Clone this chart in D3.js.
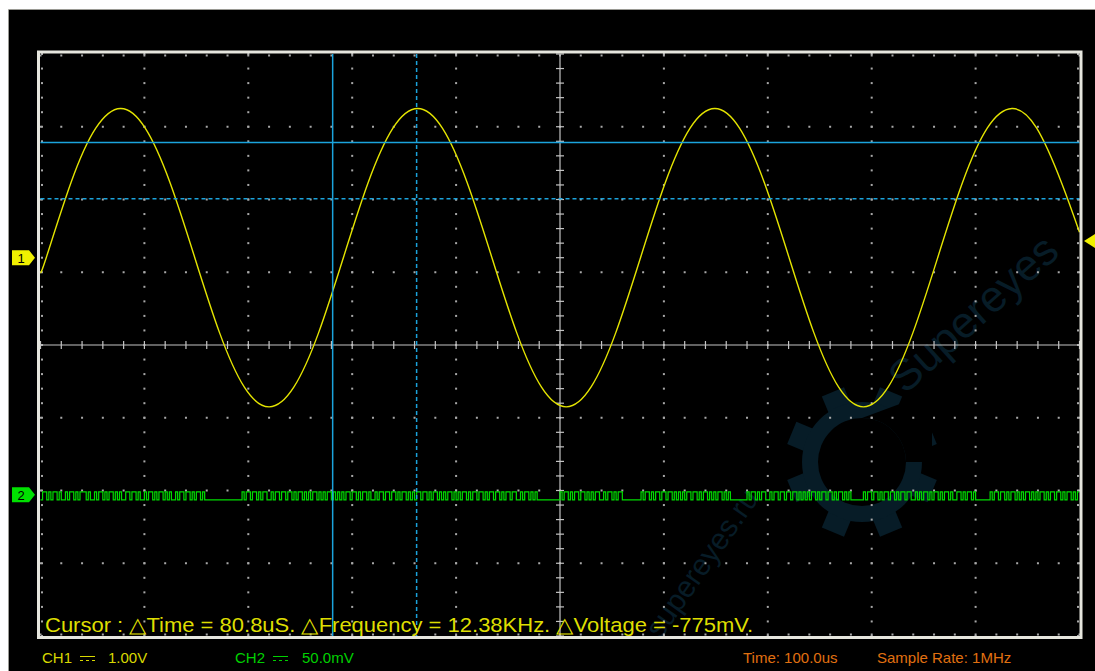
<!DOCTYPE html>
<html><head><meta charset="utf-8">
<script src="https://cdn.jsdelivr.net/npm/d3@7"></script>
<style>body{margin:0;background:#fff;overflow:hidden}svg{display:block}</style>
</head><body>
<svg id="c" width="1095" height="671"></svg>
<script>
// ---- data ----
const ch1TimeUs = [0, 5.5, 29.3, 53.2, 77, 100.8, 124.7, 148.5, 172.3, 196.2, 220, 243.8, 267.7, 291.5, 315.3, 339.2, 363, 386.8, 410.7, 434.5, 458.3, 482.2, 506, 529.8, 553.7, 577.5, 601.3, 625.2, 649, 672.8, 696.7, 720.5, 744.3, 768.2, 792, 815.8, 839.7, 863.5, 887.3, 911.2, 935, 958.8, 982.7, 1000];
const ch1Volts  = [-0.2, 0, 1.03, 1.78, 2.05, 1.78, 1.03, 0, -1.03, -1.78, -2.05, -1.78, -1.03, 0, 1.03, 1.78, 2.05, 1.78, 1.03, 0, -1.03, -1.78, -2.05, -1.78, -1.03, 0, 1.03, 1.78, 2.05, 1.78, 1.03, 0, -1.03, -1.78, -2.05, -1.78, -1.03, 0, 1.03, 1.78, 2.05, 1.78, 1.03, 0.35];
const ch2StepUs = 2;
const ch2Codes = [
  "0110101101","0010110101","1101001011","0101101010","0110110100","1011010110","1010010110","1101011010","0000000000","0000000101",
  "1011010110","0101101101","1010110101","0110101011","0101010110","1101011010","0101101101","1010110101","0110110101","1010101101",
  "0101101011","0110101101","1010110110","0101101010","0000000000","1011010110","1101010110","0101101011","0000000001","0110101101",
  "1011010101","0110110101","1010101101","0100000000","1011010110","0101101101","1011010101","0110101101","1010110101","0000001011",
  "0110101101","1010110110","0101011010","1101011010","0110101101","0000000101","1011010110","1010110101","0110101101","1010110101","1"
].join("");
const ch2LevelsMv = [-3.5, 2.0];
const timeTicksUs = d3.range(0, 1001, 100);
const cursorTimesUs = [281.2, 362.0];
const cursorVolts = [1.585, 0.81];
const triggerVolts = 0.23;
const ch1Offset = 1.2;      // divisions above centre
const ch2Offset = -2.06;    // divisions (below centre)
const cursorText = "Cursor : \u25B3Time = 80.8uS. \u25B3Frequency = 12.38KHz. \u25B3Voltage = -775mV.";
const ch1Label = ["CH1", "1.00V"];
const ch2Label = ["CH2", "50.0mV"];
const timeLabel = "Time: 100.0us";
const rateLabel = "Sample Rate: 1MHz";
const watermark = ["Supereyes", "supereyes.ru"];

// ---- scales ----
const L = 40.5, R = 1079.5, T = 54, B = 636;
const x = d3.scaleLinear().domain([0, 1000]).range([L, R]);
const yDiv = d3.scaleLinear().domain([-4, 4]).range([B, T]);
const y1 = d3.scaleLinear().domain([-4 - ch1Offset, 4 - ch1Offset]).range([B, T]);
const y2 = d3.scaleLinear().domain([(-4 - ch2Offset) * 50, (4 - ch2Offset) * 50]).range([B, T]);
const font = "Liberation Sans, Arial, sans-serif";

const svg = d3.select("#c");
svg.append("rect").attr("x", 0).attr("y", 0).attr("width", 1095).attr("height", 671).attr("fill", "#fff");
svg.append("rect").attr("x", 9).attr("y", 10).attr("width", 1086).attr("height", 661).attr("fill", "#000");
svg.append("path").attr("d", "M8.5,671V9.5H1095").attr("stroke", "#9a9a94").attr("fill", "none");

// watermark (faint)
const wmc = "#071c27";
const wm = svg.append("g").attr("fill", wmc);
const gg = wm.append("g").attr("transform", "translate(862,462)");
d3.range(8).forEach(i => {
  gg.append("rect").attr("x", -12).attr("y", -76).attr("width", 24).attr("height", 24)
    .attr("transform", `rotate(${i * 45 + 22.5})`);
});
gg.append("circle").attr("r", 60);
gg.append("circle").attr("r", 44).attr("fill", "#000");
gg.append("path").attr("d", "M0,-44A44,44 0 0 1 44,0L70,0L70,-70Z").attr("fill", "#000");
wm.append("text").attr("transform", "translate(905,395) rotate(-42)")
  .attr("font-family", font).attr("font-size", 44).text(watermark[0]);
wm.append("text").attr("transform", "translate(760,498) rotate(-55)").attr("text-anchor", "end")
  .attr("font-family", font).attr("font-size", 30).text(watermark[1]);

// grid
const grid = svg.append("g").attr("fill", "#a8a8a8");
const minorX = d3.range(0, 1000.01, 20);
const minorY = d3.range(-4, 4.01, 0.2);
timeTicksUs.forEach(t => {
  if (t === 500) return;
  const px = t === 0 ? L + 1.5 : t === 1000 ? R - 1.5 : x(t);
  minorY.forEach(d => grid.append("rect").attr("x", px - 1).attr("y", yDiv(d) - 1).attr("width", 2).attr("height", 2));
});
d3.range(-4, 5).forEach(d => {
  if (d === 0) return;
  const py = d === 4 ? T + 1.5 : d === -4 ? B - 1.5 : yDiv(d);
  minorX.forEach(t => grid.append("rect").attr("x", x(t) - 1).attr("y", py - 1).attr("width", 2).attr("height", 2));
});
// centre cross
const cross = svg.append("g").attr("stroke", "#c4c4c4").attr("stroke-width", 1.2);
cross.append("line").attr("x1", L).attr("x2", R).attr("y1", yDiv(0)).attr("y2", yDiv(0));
cross.append("line").attr("x1", x(500)).attr("x2", x(500)).attr("y1", T).attr("y2", B);
minorX.forEach(t => cross.append("line").attr("x1", x(t)).attr("x2", x(t)).attr("y1", yDiv(0) - 4).attr("y2", yDiv(0) + 4));
minorY.forEach(d => cross.append("line").attr("x1", x(500) - 4).attr("x2", x(500) + 4).attr("y1", yDiv(d)).attr("y2", yDiv(d)));

// CH2 trace
const ch2Data = ch2Codes.split("").map((c, i) => ({t: i * ch2StepUs, v: ch2LevelsMv[+c]})).filter(d => d.t <= 1000);
svg.append("path").datum(ch2Data)
  .attr("d", d3.line().x(d => x(d.t)).y(d => y2(d.v)).curve(d3.curveStepAfter))
  .attr("fill", "none").attr("stroke", "#00dc00").attr("stroke-width", 1.2);

// CH1 trace
const ch1Data = ch1TimeUs.map((t, i) => ({t, v: ch1Volts[i]}));
svg.append("path").datum(ch1Data)
  .attr("d", d3.line().x(d => x(d.t)).y(d => y1(d.v)).curve(d3.curveNatural))
  .attr("fill", "none").attr("stroke", "#e4e400").attr("stroke-width", 1.4);

// cursors
const cc = "#1ba3dc";
svg.append("line").attr("x1", x(cursorTimesUs[0])).attr("x2", x(cursorTimesUs[0])).attr("y1", T).attr("y2", B).attr("stroke", cc).attr("stroke-width", 1.5);
svg.append("line").attr("x1", x(cursorTimesUs[1])).attr("x2", x(cursorTimesUs[1])).attr("y1", T).attr("y2", B).attr("stroke", cc).attr("stroke-width", 1.5).attr("stroke-dasharray", "4,3");
svg.append("line").attr("x1", L).attr("x2", R).attr("y1", y1(cursorVolts[0])).attr("y2", y1(cursorVolts[0])).attr("stroke", cc).attr("stroke-width", 1.5);
svg.append("line").attr("x1", L).attr("x2", R).attr("y1", y1(cursorVolts[1])).attr("y2", y1(cursorVolts[1])).attr("stroke", cc).attr("stroke-width", 1.5).attr("stroke-dasharray", "4,3");

// frame
svg.append("rect").attr("x", 38.5).attr("y", 52).attr("width", 1042.5).attr("height", 585.5)
  .attr("fill", "none").attr("stroke", "#e6e6de").attr("stroke-width", 3);

// channel markers
function marker(yc, fill, label) {
  const g = svg.append("g");
  g.append("path").attr("d", `M12,${yc - 7.5}H29L35,${yc}L29,${yc + 7.5}H12Z`).attr("fill", fill);
  g.append("text").attr("x", 21).attr("y", yc + 5).attr("text-anchor", "middle")
    .attr("font-family", font).attr("font-size", 13).attr("fill", "#000").text(label);
}
marker(y1(0), "#f0f000", "1");
marker(y2(0), "#00e000", "2");
const ty = y1(triggerVolts);
svg.append("path").attr("d", `M1084,${ty}L1095,${ty - 7}V${ty + 7}Z`).attr("fill", "#f0f000");

// texts
svg.append("text").attr("x", 45).attr("y", 632).attr("font-family", font).attr("font-size", 20.5)
  .attr("fill", "#dede00").attr("textLength", 708).attr("lengthAdjust", "spacingAndGlyphs").text(cursorText);

function chLabel(x0, xs, xv, color, lab) {
  svg.append("text").attr("x", x0).attr("y", 663).attr("font-family", font).attr("font-size", 15).attr("fill", color).text(lab[0]);
  svg.append("line").attr("x1", xs).attr("x2", xs + 15).attr("y1", 656.5).attr("y2", 656.5).attr("stroke", color);
  svg.append("line").attr("x1", xs).attr("x2", xs + 15).attr("y1", 660.5).attr("y2", 660.5).attr("stroke", color).attr("stroke-dasharray", "3,3");
  svg.append("text").attr("x", xv).attr("y", 663).attr("font-family", font).attr("font-size", 15).attr("fill", color).text(lab[1]);
}
chLabel(42, 80, 108, "#d8d800", ch1Label);
chLabel(235, 273, 302, "#00d000", ch2Label);
svg.append("text").attr("x", 743).attr("y", 663).attr("font-family", font).attr("font-size", 15).attr("fill", "#e07010").text(timeLabel);
svg.append("text").attr("x", 877).attr("y", 663).attr("font-family", font).attr("font-size", 15).attr("fill", "#e07010").text(rateLabel);
</script>
</body></html>
